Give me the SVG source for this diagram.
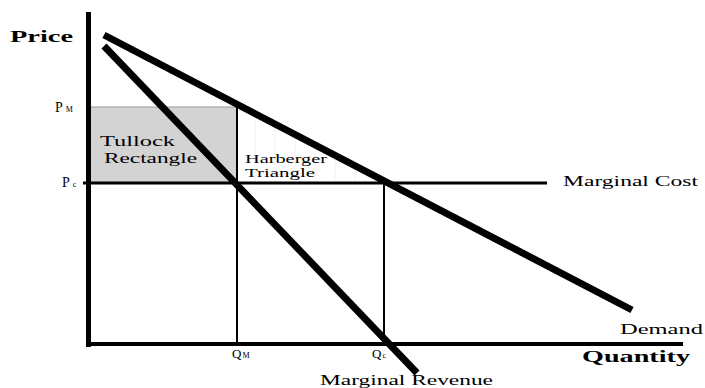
<svg xmlns="http://www.w3.org/2000/svg" width="705" height="388" viewBox="0 0 705 388">
<style>
text{font-family:"Liberation Serif","Times New Roman",serif;fill:#000}
.ax{font-weight:bold}
.sub{font-size:8px}
.thick{stroke:#000;stroke-width:7;fill:none}
.thin{stroke:#000;stroke-width:2;fill:none}
.faint{stroke:#f0f0f0;stroke-width:1}
</style>
<rect width="705" height="388" fill="#fff"/>
<g id="tullock">
<rect x="90" y="107" width="147" height="76" fill="#d3d3d3" stroke="#999" stroke-width="1"/>
<text x="100" y="146" font-size="15" textLength="75" lengthAdjust="spacingAndGlyphs">Tullock</text>
<text x="104" y="163" font-size="15" textLength="93" lengthAdjust="spacingAndGlyphs">Rectangle</text>
</g>
<g id="harberger">
<g class="faint">
<line x1="255" y1="117" x2="255" y2="181"/>
<line x1="275" y1="127" x2="275" y2="181"/>
<line x1="295" y1="138" x2="295" y2="181"/>
<line x1="315" y1="148" x2="315" y2="181"/>
<line x1="335" y1="159" x2="335" y2="181"/>
<line x1="355" y1="169" x2="355" y2="181"/>
</g>
<text x="245" y="163" font-size="12" textLength="82" lengthAdjust="spacingAndGlyphs">Harberger</text>
<text x="245" y="177" font-size="12" textLength="70" lengthAdjust="spacingAndGlyphs">Triangle</text>
</g>
<g id="connectors">
<line x1="88.5" y1="12" x2="88.5" y2="347" stroke="#000" stroke-width="5"/>
<line x1="86" y1="344" x2="683" y2="344" stroke="#000" stroke-width="4"/>
<line x1="83" y1="183" x2="547" y2="183" stroke="#000" stroke-width="3"/>
<line class="thin" x1="237" y1="107" x2="237" y2="344"/>
<line class="thin" x1="384" y1="183" x2="384" y2="344"/>
<line class="thick" x1="104" y1="35" x2="632" y2="310"/>
<line class="thick" x1="104" y1="46" x2="417" y2="373"/>
</g>
<g id="axis-labels">
<text class="ax" x="10" y="42" font-size="16" textLength="63" lengthAdjust="spacingAndGlyphs">Price</text>
<text class="ax" x="582" y="362" font-size="17" textLength="108" lengthAdjust="spacingAndGlyphs">Quantity</text>
</g>
<g id="price-labels">
<text x="55" y="112" font-size="14">P<tspan class="sub" dx="3">M</tspan></text>
<text x="62" y="187" font-size="14">P<tspan class="sub" dx="3">c</tspan></text>
</g>
<g id="quantity-labels">
<text x="232" y="358" font-size="13">Q<tspan class="sub" dx="1">M</tspan></text>
<text x="372" y="358" font-size="13">Q<tspan class="sub" dx="1">c</tspan></text>
</g>
<g id="curve-labels">
<text x="563" y="186" font-size="15" textLength="135" lengthAdjust="spacingAndGlyphs">Marginal Cost</text>
<text x="620" y="334" font-size="15" textLength="83" lengthAdjust="spacingAndGlyphs">Demand</text>
<text x="320" y="385" font-size="14" textLength="173" lengthAdjust="spacingAndGlyphs">Marginal Revenue</text>
</g>
</svg>
